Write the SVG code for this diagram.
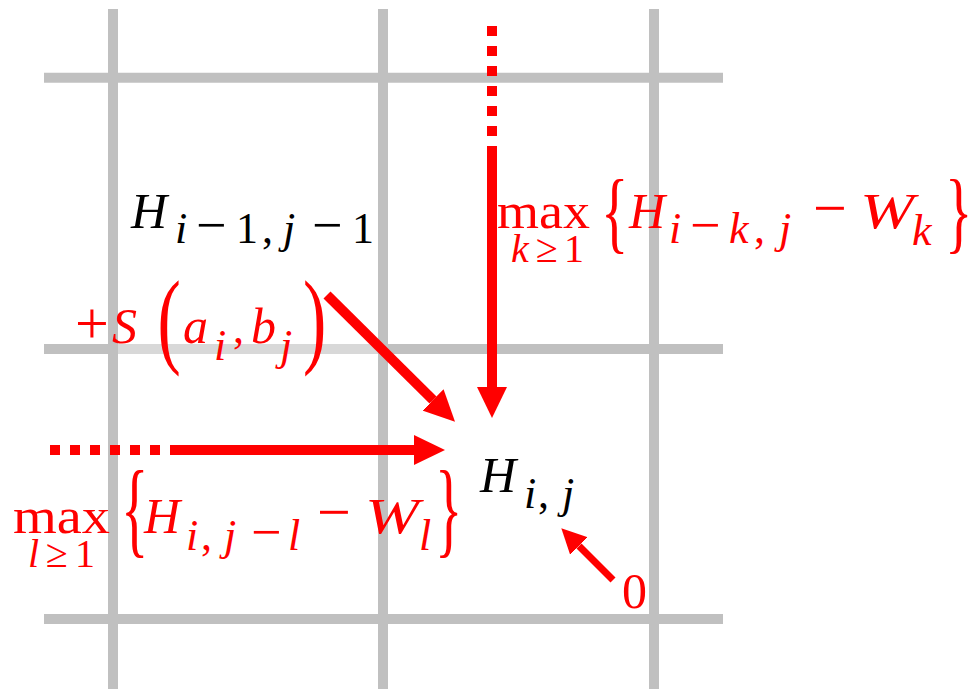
<svg xmlns="http://www.w3.org/2000/svg" width="974" height="690" viewBox="0 0 974 690">
  <style>
    .grid { stroke: #c0c0c0; stroke-width: 10; fill: none; }
    .arr { stroke: #ff0000; stroke-width: 10; fill: none; }
    .dot { stroke: #ff0000; stroke-width: 10; fill: none; stroke-dasharray: 10 10; }
    text { font-family: "Liberation Serif", "Times New Roman", serif; }
    .k { fill: #000000; }
    .r { fill: #ff0000; }
    .it { font-style: italic; }
    .up { font-style: normal; }
    .m { font-size: 50px; }
    .s { font-size: 44px; }
    .ss { font-size: 40px; }
    .sm { font-size: 54px; font-style: normal; }
    .op { font-size: 60px; font-style: normal; }
    .br { font-size: 57px; font-style: normal; }
    .pa { font-size: 70px; font-style: normal; }
  </style>
  <defs>
    <marker id="ah" markerUnits="userSpaceOnUse" markerWidth="31" markerHeight="30" refX="0" refY="15" orient="auto" viewBox="0 0 31 30">
      <path d="M0,0 L31,15 L0,30 Z" fill="#ff0000"/>
    </marker>
    <marker id="ahs" markerUnits="userSpaceOnUse" markerWidth="25" markerHeight="25" refX="0" refY="12.5" orient="auto" viewBox="0 0 25 25">
      <path d="M0,0 L25,12.5 L0,25 Z" fill="#ff0000"/>
    </marker>
  </defs>

  <g id="grid">
    <line class="grid" x1="44" y1="77.7" x2="723" y2="77.7"/>
    <line class="grid" x1="44" y1="349" x2="723" y2="349"/>
    <line class="grid" x1="44" y1="619" x2="723" y2="619"/>
    <rect x="118" y="290" width="260" height="82" fill="#ffffff" fill-opacity="0.38"/>
    <line class="grid" x1="113" y1="9" x2="113" y2="689"/>
    <line class="grid" x1="383" y1="9" x2="383" y2="689"/>
    <line class="grid" x1="654" y1="9" x2="654" y2="689"/>
  </g>

  <g id="connectors">
    <line class="dot" x1="492" y1="26" x2="492" y2="152"/>
    <line class="arr" x1="492" y1="147" x2="492" y2="387" marker-end="url(#ah)"/>
    <line class="dot" x1="50" y1="450" x2="180" y2="450"/>
    <line class="arr" x1="176" y1="450" x2="414" y2="450" marker-end="url(#ah)"/>
    <line class="arr" x1="327" y1="295" x2="433" y2="400" marker-end="url(#ah)"/>
    <line class="arr" style="stroke-width:7" x1="613" y1="580" x2="579" y2="546" marker-end="url(#ahs)"/>
  </g>

  <g id="node-h-im1-jm1" class="k">
    <text class="m it" x="131" y="228">H</text>
    <text class="s it" y="243"><tspan x="175">i</tspan><tspan class="sm" x="196">−</tspan><tspan class="up" x="236">1</tspan><tspan class="up" x="262">,</tspan><tspan x="283">j</tspan><tspan class="sm" x="312">−</tspan><tspan class="up" x="352">1</tspan></text>
  </g>

  <g id="label-up" class="r">
    <text class="m up" x="497" y="228" textLength="93" lengthAdjust="spacingAndGlyphs">max</text>
    <text class="ss" y="262"><tspan class="it" x="511">k</tspan><tspan class="up" x="536">≥</tspan><tspan class="up" x="564">1</tspan></text>
    <text class="br" transform="translate(601,241.6) scale(1,1.59)" x="0" y="0">{</text>
    <text class="m it" x="629" y="228">H</text>
    <text class="s it" y="243"><tspan x="669">i</tspan><tspan class="sm" x="690">−</tspan><tspan x="729">k</tspan><tspan class="up" x="754">,</tspan><tspan x="779">j</tspan></text>
    <text class="op" x="813" y="228">−</text>
    <text class="m it" x="860" y="228" textLength="54" lengthAdjust="spacingAndGlyphs">W</text>
    <text class="s it" x="912" y="245">k</text>
    <text class="br" transform="translate(945,241.6) scale(1,1.59)" x="0" y="0">}</text>
  </g>

  <g id="label-diag" class="r">
    <text class="op" x="75" y="343">+</text>
    <text class="m it" x="112" y="343">S</text>
    <text class="pa" transform="translate(157.6,354) scale(1,1.5)" x="0" y="0">(</text>
    <text class="m it" x="183" y="343">a</text>
    <text class="s it" x="214" y="360">i</text>
    <text class="s up" x="233" y="343">,</text>
    <text class="m it" x="251" y="343">b</text>
    <text class="s it" x="280" y="360">j</text>
    <text class="pa" transform="translate(303,354) scale(1,1.5)" x="0" y="0">)</text>
  </g>

  <g id="label-left" class="r">
    <text class="m up" x="13" y="533" textLength="97" lengthAdjust="spacingAndGlyphs">max</text>
    <text class="ss" y="567"><tspan class="it" x="28">l</tspan><tspan class="up" x="46">≥</tspan><tspan class="up" x="75">1</tspan></text>
    <text class="br" transform="translate(121,544) scale(1,1.86)" x="0" y="0">{</text>
    <text class="m it" x="144" y="533">H</text>
    <text class="s it" y="550"><tspan x="186">i</tspan><tspan class="up" x="201">,</tspan><tspan x="224">j</tspan><tspan class="sm" x="251">−</tspan><tspan x="288">l</tspan></text>
    <text class="op" x="317" y="532">−</text>
    <text class="m it" x="365" y="533" textLength="54" lengthAdjust="spacingAndGlyphs">W</text>
    <text class="s it" x="419" y="550">l</text>
    <text class="br" transform="translate(435,544) scale(1,1.86)" x="0" y="0">}</text>
  </g>

  <g id="node-h-i-j" class="k">
    <text class="m it" x="480" y="492">H</text>
    <text class="s it" y="508"><tspan x="524">i</tspan><tspan class="up" x="538">,</tspan><tspan x="562">j</tspan></text>
  </g>

  <g id="label-zero" class="r">
    <text class="m up" x="622" y="608">0</text>
  </g>
</svg>
